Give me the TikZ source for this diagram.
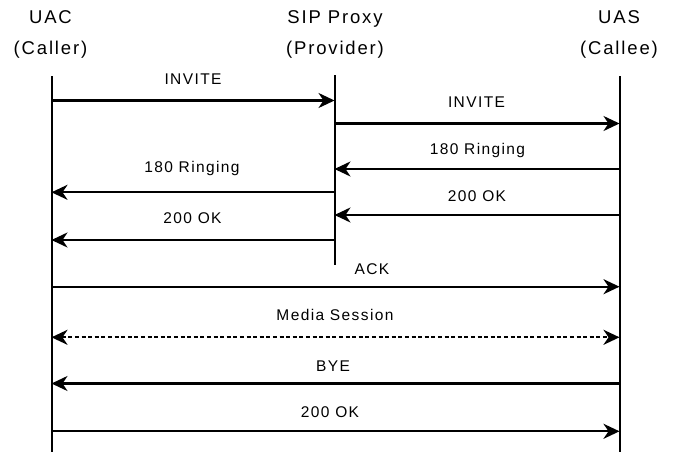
\documentclass[tikz,border=0pt]{standalone}
\usepackage{fontspec}
\setmainfont{Liberation Sans}
\newfontfamily\hdrfont[LetterSpace=10]{Liberation Sans}
\newfontfamily\lblfont[LetterSpace=9]{Liberation Sans}
\usetikzlibrary{arrows.meta}
\begin{document}
\begin{tikzpicture}[x=1pt,y=-1pt,
  hdr/.style={font=\hdrfont\fontsize{18.5}{21}\selectfont, anchor=base, inner sep=0pt},
  lbl/.style={font=\lblfont\fontsize{15.5}{18}\selectfont, anchor=base, inner sep=0pt},
  life/.style={line width=2pt, black},
  tip/.style={},
  msg/.style={line width=2.2pt, black, -{Stealth[length=16pt,width=15pt,inset=5pt]}},
  media/.style={line width=2.2pt, black, dash pattern=on 4pt off 2.6pt,
    {Stealth[length=16pt,width=15pt,inset=5pt]}-{Stealth[length=16pt,width=15pt,inset=5pt]}}]
\useasboundingbox[fill=white] (0,0) rectangle (674,452);

% participants
\node[hdr] (uacname) at (50.5,24) {UAC};
\node[hdr] (uacrole) at (50.5,54.5) {(Caller)};
\node[hdr] (proxyname) at (335,24) {SIP Proxy};
\node[hdr] (proxyrole) at (335,54.5) {(Provider)};
\node[hdr] (uasname) at (619,24) {UAS};
\node[hdr] (uasrole) at (619,54.5) {(Callee)};

% lifeline x positions
\coordinate (A) at (51.5,0);
\coordinate (P) at (334.5,0);
\coordinate (B) at (619.5,0);

% lifeline extents
\coordinate (top) at (0,76);
\coordinate (ptop) at (0,75);
\coordinate (pend) at (0,265);
\coordinate (bot) at (0,452);

\draw[life] (A |- top) -- (A |- bot);
\draw[life] (P |- ptop) -- (P |- pend);
\draw[life] (B |- top) -- (B |- bot);

% message rows
\coordinate (r1) at (0,100.5);
\coordinate (r2) at (0,123.5);
\coordinate (r3) at (0,169);
\coordinate (r4) at (0,192.3);
\coordinate (r5) at (0,215);
\coordinate (r6) at (0,240);
\coordinate (r7) at (0,286.7);
\coordinate (r8) at (0,337.3);
\coordinate (r9) at (0,383.5);
\coordinate (r10) at (0,431.3);

% messages
\draw[msg] (A |- r1) -- (P |- r1);
\node[lbl] (m1) at (193,84) {INVITE};

\draw[msg] (P |- r2) -- (B |- r2);
\node[lbl] (m2) at (476.5,107) {INVITE};

\draw[msg] (B |- r3) -- (P |- r3);
\node[lbl] (m3) at (477.5,154.3) {180 Ringing};

\draw[msg] (P |- r4) -- (A |- r4);
\node[lbl] (m4) at (192,172.7) {180 Ringing};

\draw[msg] (B |- r5) -- (P |- r5);
\node[lbl] (m5) at (477,201) {200 OK};

\draw[msg] (P |- r6) -- (A |- r6);
\node[lbl] (m6) at (192.5,223.3) {200 OK};

\draw[msg] (A |- r7) -- (B |- r7);
\node[lbl] (m7) at (372,274) {ACK};

\draw[media] (A |- r8) -- (B |- r8);
\node[lbl] (m8) at (335,320.7) {Media Session};

\draw[msg] (B |- r9) -- (A |- r9);
\node[lbl] (m9) at (333,371) {BYE};

\draw[msg] (A |- r10) -- (B |- r10);
\node[lbl] (m10) at (330,417) {200 OK};
\end{tikzpicture}
\end{document}
